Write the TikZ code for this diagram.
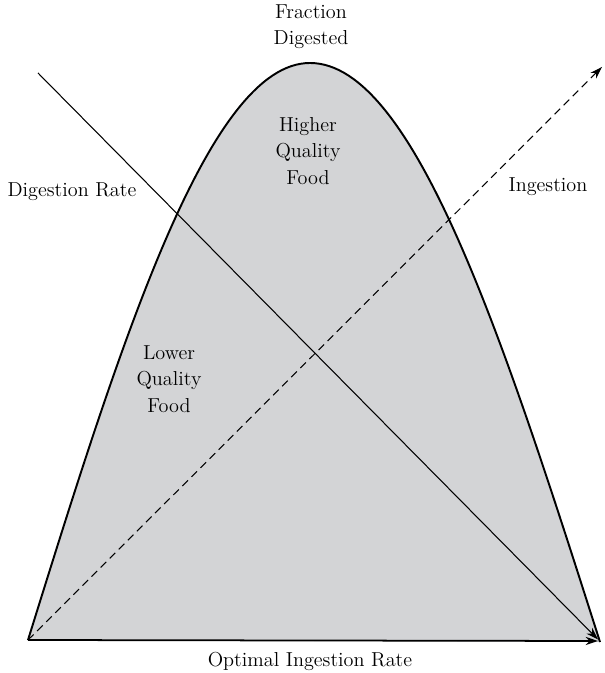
\documentclass[tikz,border=0pt]{standalone}
\usepackage{tikz}
\usepackage{xcolor}
\usetikzlibrary{arrows.meta}

\definecolor{foodgray}{RGB}{211,212,214}

\begin{document}
\begin{tikzpicture}[font=\fontsize{11.5}{15}\selectfont, >={Stealth[length=7pt, width=4.6pt]}]
	\useasboundingbox (0,0) rectangle (12.08,13.46);
	%
	% corner points
	\coordinate (o) at (0.56, 0.66);
	\coordinate (e) at (12.0, 0.62);
	\coordinate (p) at (6.2, 12.2);
	\coordinate (r) at (11.96, 0.64);
	\coordinate (ds) at (0.76, 12.0);
	\coordinate (de) at (11.96, 0.67);
	\coordinate (ie) at (12.04, 12.12);
	%
	% digestion curve
	\draw[fill=foodgray, line width = 1.1pt] (o) sin (p) cos (e);
	%
	% rate lines
	\draw[line width = 0.6pt, ->] (ds) -- (de);
	\draw[line width = 0.6pt, dash pattern=on 4.5pt off 2.8pt, ->] (o) -- (ie);
	\draw[line width = 1pt, ->] (o) -- (r);
	%
	%
	% nodes -- text
	\node[align=center] (frac) at (6.22, 12.93) {Fraction\\Digested};
	\node[align=center] (high) at (6.16, 10.44) {Higher\\Quality\\Food};
	\node[align=center] (low) at (3.38, 5.88) {Lower\\Quality\\Food};
	\node[] (dig) at (1.44, 9.62) {Digestion Rate};
	\node[] (ing) at (10.96, 9.72) {Ingestion};
	\node[] (opt) at (6.2, 0.24) {Optimal Ingestion Rate};
\end{tikzpicture}
\end{document}
